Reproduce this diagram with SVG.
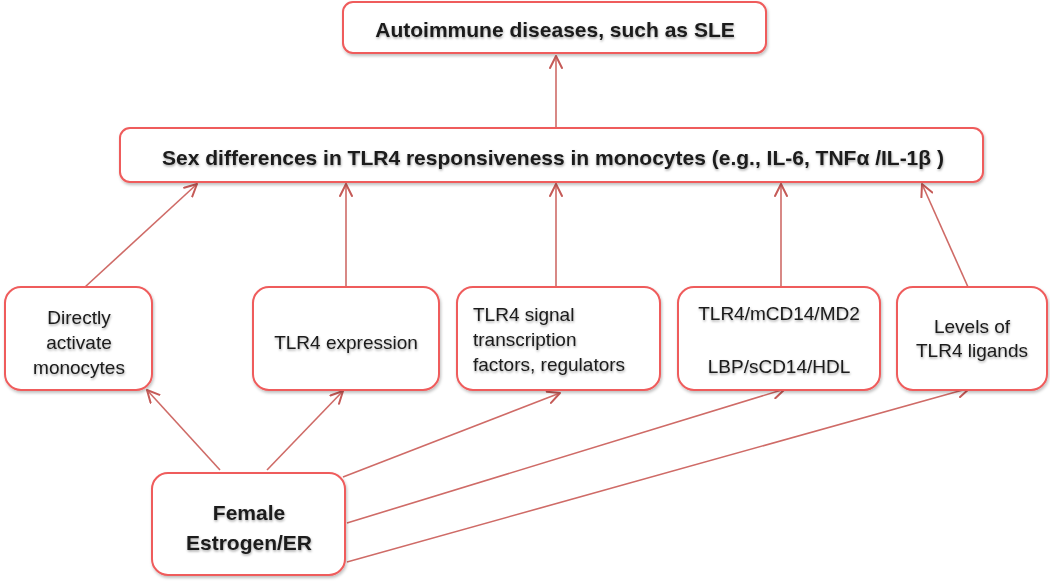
<svg xmlns="http://www.w3.org/2000/svg" width="1050" height="584" viewBox="0 0 1050 584">
<defs>
<filter id="sh" x="-10%" y="-10%" width="120%" height="130%">
<feDropShadow dx="1" dy="2" stdDeviation="1.5" flood-color="#000" flood-opacity="0.25"/>
</filter>
<filter id="tsh" x="-5%" y="-20%" width="110%" height="150%">
<feDropShadow dx="0.5" dy="1.5" stdDeviation="1" flood-color="#000" flood-opacity="0.35"/>
</filter>
<marker id="ah" viewBox="0 0 14 14" refX="13" refY="7" markerWidth="14" markerHeight="14" markerUnits="userSpaceOnUse" orient="auto">
<path d="M1,1 L13,7 L1,13" fill="none" stroke="#c55a57" stroke-width="2" stroke-linecap="round" stroke-linejoin="round"/>
</marker>
<style>
.box{fill:#fff;stroke:#ef5b5b;stroke-width:2;filter:url(#sh)}
.t{font-family:"Liberation Sans",Arial,sans-serif;fill:#1a1a1a;filter:url(#tsh)}
.b{font-weight:bold}
.s{font-size:19px}
.c{fill:none;stroke:#cf6b67;stroke-width:1.6;marker-end:url(#ah)}
</style>
</defs>
<g id="connectors">
<line class="c" x1="556" y1="127" x2="556" y2="56"/>
<line class="c" x1="85" y1="287" x2="197" y2="184"/>
<line class="c" x1="346" y1="287" x2="346" y2="184"/>
<line class="c" x1="556" y1="287" x2="556" y2="184"/>
<line class="c" x1="781" y1="287" x2="781" y2="184"/>
<line class="c" x1="968" y1="287" x2="922" y2="184"/>
<line class="c" x1="220" y1="470" x2="147" y2="390"/>
<line class="c" x1="267" y1="470" x2="343" y2="391"/>
<line class="c" x1="343" y1="477" x2="560" y2="393"/>
<line class="c" x1="347" y1="523" x2="785" y2="389"/>
<line class="c" x1="347" y1="562" x2="970" y2="388"/>
</g>
<g id="n-autoimmune">
<rect class="box" x="343" y="2" width="423" height="51" rx="10"/>
<text class="t b" x="555" y="37" font-size="21" text-anchor="middle">Autoimmune diseases, such as SLE</text>
</g>
<g id="n-sexdiff">
<rect class="box" x="120" y="128" width="863" height="54" rx="10"/>
<text class="t b" x="553" y="165" font-size="21" text-anchor="middle">Sex differences in TLR4 responsiveness in monocytes (e.g., IL-6, TNFα /IL-1β )</text>
</g>
<g id="n-direct">
<rect class="box" x="5" y="287" width="147" height="103" rx="16"/>
<text class="t s" text-anchor="middle"><tspan x="79" y="324">Directly</tspan><tspan x="79" y="349">activate</tspan><tspan x="79" y="374">monocytes</tspan></text>
</g>
<g id="n-expr">
<rect class="box" x="253" y="287" width="186" height="103" rx="16"/>
<text class="t s" x="346" y="349" text-anchor="middle">TLR4 expression</text>
</g>
<g id="n-signal">
<rect class="box" x="457" y="287" width="203" height="103" rx="16"/>
<text class="t s"><tspan x="473" y="321">TLR4 signal</tspan><tspan x="473" y="346">transcription</tspan><tspan x="473" y="371">factors, regulators</tspan></text>
</g>
<g id="n-receptors">
<rect class="box" x="678" y="287" width="202" height="103" rx="16"/>
<text class="t s" text-anchor="middle"><tspan x="779" y="320">TLR4/mCD14/MD2</tspan><tspan x="779" y="373">LBP/sCD14/HDL</tspan></text>
</g>
<g id="n-ligands">
<rect class="box" x="897" y="287" width="150" height="103" rx="16"/>
<text class="t s" text-anchor="middle"><tspan x="972" y="333">Levels of</tspan><tspan x="972" y="357">TLR4 ligands</tspan></text>
</g>
<g id="n-female">
<rect class="box" x="152" y="473" width="193" height="102" rx="16"/>
<text class="t b" font-size="21" text-anchor="middle"><tspan x="249" y="520">Female</tspan><tspan x="249" y="550">Estrogen/ER</tspan></text>
</g>
</svg>
